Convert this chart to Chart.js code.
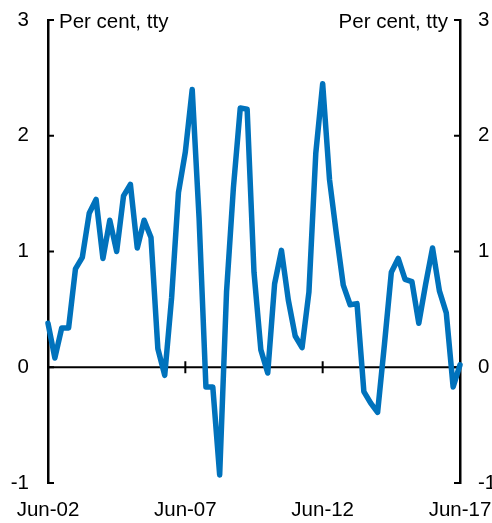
<!DOCTYPE html>
<html>
<head>
<meta charset="utf-8">
<script src="https://cdn.jsdelivr.net/npm/chart.js@4/dist/chart.umd.min.js"></script>
<style>
  html, body { margin: 0; padding: 0; background: #fff; }
  #wrap { width: 492px; height: 523px; }
</style>
</head>
<body>
<div id="wrap"><canvas id="chart_canvas"></canvas></div>
<script>
// quarterly, Jun-02 .. Jun-17
var months = ['Mar', 'Jun', 'Sep', 'Dec'];
var quarters = [];
for (var q = 1; q <= 61; q++) {
    var yr = 2 + Math.floor(q / 4);
    quarters.push(months[q % 4] + '-' + (yr < 10 ? '0' + yr : '' + yr));
}
var xTickLabels = ['Jun-02', 'Jun-07', 'Jun-12', 'Jun-17'];
var yTicks = [-1, 0, 1, 2, 3];
var unitLabel = 'Per cent, tty';

var series = [
    0.38, 0.08, 0.34, 0.34, 0.85, 0.95, 1.33, 1.45, 0.94, 1.27,
    1.00, 1.48, 1.58, 1.03, 1.27, 1.12, 0.16, -0.07, 0.60, 1.51,
    1.86, 2.40, 1.29, -0.17, -0.17, -0.93, 0.65, 1.55, 2.24, 2.23,
    0.82, 0.15, -0.05, 0.72, 1.01, 0.58, 0.27, 0.17, 0.65, 1.85,
    2.45, 1.62, 1.15, 0.71, 0.54, 0.55, -0.21, -0.31, -0.39, 0.20,
    0.82, 0.94, 0.76, 0.74, 0.38, 0.72, 1.03, 0.66, 0.47, -0.17,
    0.02
];

var FONT = "'Liberation Sans', Arial, sans-serif";

// zero line, inside ticks and unit labels
var extras = {
    id: 'extras',
    beforeDatasetsDraw: function (chart) {
        var ctx = chart.ctx, a = chart.chartArea;
        var y = chart.scales.y, x = chart.scales.x;
        var y0 = y.getPixelForValue(0);
        ctx.save();
        ctx.strokeStyle = '#000';
        ctx.lineWidth = 2;
        ctx.beginPath();
        ctx.moveTo(a.left, y0);
        ctx.lineTo(a.right, y0);
        ctx.stroke();
        yTicks.forEach(function (v) {
            var py = y.getPixelForValue(v);
            ctx.beginPath();
            ctx.moveTo(a.left, py);
            ctx.lineTo(a.left + 6, py);
            ctx.moveTo(a.right, py);
            ctx.lineTo(a.right - 6, py);
            ctx.stroke();
        });
        xTickLabels.forEach(function (lab) {
            var idx = quarters.indexOf(lab);
            if (idx <= 0 || idx >= quarters.length - 1) return;
            var px = x.getPixelForValue(idx);
            ctx.beginPath();
            ctx.moveTo(px, y0 - 6);
            ctx.lineTo(px, y0 + 6);
            ctx.stroke();
        });
        ctx.fillStyle = '#000';
        ctx.font = '20.5px ' + FONT;
        ctx.textBaseline = 'alphabetic';
        ctx.textAlign = 'left';
        ctx.fillText(unitLabel, a.left + 11, a.top + 8);
        ctx.textAlign = 'right';
        ctx.fillText(unitLabel, a.right - 12, a.top + 8);
        ctx.restore();
    }
};

function noPad(s) {
    s.paddingLeft = 0; s.paddingRight = 0;
    s.paddingTop = 0; s.paddingBottom = 0;
}

var ChartData = {
    labels: quarters,
    datasets: [{
        label: 'Series',
        data: series,
        borderColor: '#0072BC',
        borderWidth: 5.5,
        borderJoinStyle: 'round',
        borderCapStyle: 'round',
        pointRadius: 0,
        tension: 0,
        clip: false
    }]
};

var ChartOption = {
    responsive: false,
    animation: false,
    layout: { padding: { top: 20, right: 0, left: 0, bottom: 0 } },
    plugins: {
        legend: { display: false },
        tooltip: { enabled: false }
    },
    scales: {
        x: {
            type: 'category',
            offset: false,
            grid: { display: false, drawTicks: false },
            border: { display: false },
            ticks: {
                autoSkip: false,
                maxRotation: 0,
                padding: 15,
                color: '#000',
                font: { size: 20.5, family: FONT },
                callback: function (v, i) {
                    var lab = quarters[i];
                    return xTickLabels.indexOf(lab) >= 0 ? lab : '';
                }
            },
            afterFit: function (s) { s.height = 40; noPad(s); }
        },
        y: {
            position: 'left',
            min: -1, max: 3,
            grid: { display: false, drawTicks: false },
            border: { display: true, color: '#000', width: 2.5 },
            ticks: {
                stepSize: 1,
                padding: 19,
                color: '#000',
                font: { size: 20.5, family: FONT }
            },
            afterFit: function (s) { s.width = 48; noPad(s); }
        },
        y2: {
            position: 'right',
            min: -1, max: 3,
            grid: { display: false, drawTicks: false },
            border: { display: true, color: '#000', width: 2.5 },
            ticks: {
                stepSize: 1,
                padding: 18,
                color: '#000',
                font: { size: 20.5, family: FONT }
            },
            afterFit: function (s) { s.width = 32; noPad(s); }
        }
    }
};

var canvas = document.getElementById('chart_canvas');
canvas.width = 492;
canvas.height = 523;
var ctx = canvas.getContext('2d');
var myChart = new Chart(ctx, {
    type: 'line',
    data: ChartData,
    options: ChartOption,
    plugins: [extras]
});
</script>
</body>
</html>
